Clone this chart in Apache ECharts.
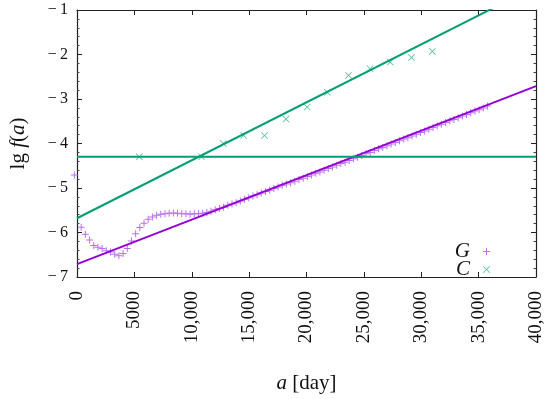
<!DOCTYPE html>
<html>
<head>
<meta charset="utf-8">
<script src="https://cdn.jsdelivr.net/npm/echarts@6/dist/echarts.min.js"></script>
<style>html,body{margin:0;padding:0;background:#fff}#c{width:550px;height:399px}</style>
</head>
<body>
<div id="c"></div>
<script>
const xTicks = [0, 5000, 10000, 15000, 20000, 25000, 30000, 35000, 40000];
const xTickLabels = ['0', '5000', '10,000', '15,000', '20,000', '25,000', '30,000', '35,000', '40,000'];
const yTicks = [-7, -6, -5, -4, -3, -2, -1];

const gDays = [-230,365,730,1095,1460,1825,2190,2555,2920,3285,3650,4015,4380,4745,5110,5475,5840,6205,6570,6935,
  7300,7665,8030,8395,8760,9125,9490,9855,10220,10585,10950,11315,11680,12045,12410,12775,13140,13505,13870,14235,
  14600,14965,15330,15695,16060,16425,16790,17155,17520,17885,18250,18615,18980,19345,19710,20075,20440,20805,21170,21535,
  21900,22265,22630,22995,23360,23725,24090,24455,24820,25185,25550,25915,26280,26645,27010,27375,27740,28105,28470,28835,
  29200,29565,29930,30295,30660,31025,31390,31755,32120,32485,32850,33215,33580,33945,34310,34675,35040,35405,35770];
const gValues = [-4.71,-5.88,-6.04,-6.17,-6.29,-6.33,-6.36,-6.41,-6.44,-6.49,-6.52,-6.47,-6.36,-6.19,-6.03,-5.89,-5.79,-5.70,-5.65,-5.61,
  -5.59,-5.58,-5.57,-5.56,-5.57,-5.58,-5.58,-5.59,-5.58,-5.58,-5.57,-5.55,-5.52,-5.49,-5.46,-5.43,-5.39,-5.36,-5.33,-5.29,
  -5.25,-5.22,-5.18,-5.15,-5.11,-5.08,-5.05,-5.01,-4.98,-4.94,-4.91,-4.88,-4.85,-4.81,-4.78,-4.74,-4.71,-4.67,-4.64,-4.60,
  -4.56,-4.53,-4.49,-4.45,-4.42,-4.38,-4.34,-4.31,-4.27,-4.23,-4.20,-4.16,-4.12,-4.09,-4.05,-4.01,-3.98,-3.94,-3.90,-3.87,
  -3.83,-3.79,-3.75,-3.72,-3.68,-3.64,-3.60,-3.57,-3.53,-3.49,-3.46,-3.42,-3.38,-3.35,-3.31,-3.27,-3.24,-3.20,-3.16];

const cDays = [5430, 10850, 12750, 14520, 16340, 18210, 20060, 21820, 23660, 25540, 27300, 29150, 30970];
const cValues = [-4.30, -4.30, -4.00, -3.82, -3.82, -3.45, -3.18, -2.85, -2.47, -2.32, -2.17, -2.07, -1.93];

const fitX = [0, 40000];
const gFit = [-6.71, -2.71];
const cFit = [-5.68, -0.47];
const cConst = [-4.30, -4.30];

const PURPLE = '#9400d3', GREEN = '#009e73';
const plusPath = 'path://M3,0H4V3H7V4H4V7H3V4H0V3H3Z';
const crossPath = 'path://M0,0.7L0.7,0L4,3.3L7.3,0L8,0.7L4.7,4L8,7.3L7.3,8L4,4.7L0.7,8L0,7.3L3.3,4Z';
const pair = (xs, ys) => xs.map((x, i) => [x, ys[i]]);
const SERIF = '"Liberation Serif","DejaVu Serif",serif';

const chart = echarts.init(document.getElementById('c'), null, {renderer: 'canvas'});
const axisCommon = {
  axisLine: {show: true, onZero: false, lineStyle: {color: '#222', width: 1.2}},
  axisTick: {show: true, inside: true, length: 5, lineStyle: {color: '#222', width: 1}},
  splitLine: {show: false}
};
chart.setOption({
  animation: false,
  backgroundColor: '#fff',
  grid: {left: 74, right: 14, top: 10, bottom: 116},
  legend: {
    data: ['G', 'C'], orient: 'vertical', right: 60, top: 241, align: 'right', padding: 0,
    itemWidth: 7, itemHeight: 7, itemGap: -3,
    textStyle: {fontFamily: SERIF, fontStyle: 'italic', fontSize: 21, lineHeight: 16, color: '#111', padding: [0, 8, 0, 0]}
  },
  xAxis: [{
    type: 'value', min: 0, max: 40000, interval: 5000, position: 'bottom',
    ...axisCommon,
    axisLabel: {rotate: 90, margin: 14, fontFamily: SERIF, fontSize: 19, color: '#111',
      formatter: v => xTickLabels[xTicks.indexOf(v)]},
    name: '{i|a} [day]', nameLocation: 'middle', nameGap: 96,
    nameTextStyle: {fontFamily: SERIF, fontSize: 21, color: '#111',
      rich: {i: {fontFamily: SERIF, fontStyle: 'italic', fontSize: 21, color: '#111'}}}
  }, {
    type: 'value', min: 0, max: 40000, interval: 5000, position: 'top',
    ...axisCommon, axisLabel: {show: false}
  }],
  yAxis: [{
    type: 'value', min: -7, max: -1, interval: 1, position: 'left',
    ...axisCommon,
    minorTick: {show: true, splitNumber: 5, length: 2.5, lineStyle: {color: '#444'}},
    axisLabel: {margin: 9, fontFamily: SERIF, fontSize: 16, color: '#111',
      formatter: v => (yTicks.includes(v) ? '\u2212\u2009' + Math.abs(v) : '')},
    name: 'lg {i|f}({i|a})', nameLocation: 'middle', nameGap: 48, nameRotate: 90,
    nameTextStyle: {fontFamily: SERIF, fontSize: 21, color: '#111',
      rich: {i: {fontFamily: SERIF, fontStyle: 'italic', fontSize: 21, color: '#111'}}}
  }, {
    type: 'value', min: -7, max: -1, interval: 1, position: 'right',
    ...axisCommon,
    minorTick: {show: true, splitNumber: 5, length: 2.5, lineStyle: {color: '#444'}},
    axisLabel: {show: false}
  }],
  series: [
    {name: 'gfit', type: 'line', data: pair(fitX, gFit), symbol: 'none', clip: true,
      lineStyle: {color: PURPLE, width: 2}, z: 3},
    {name: 'cfit', type: 'line', data: pair(fitX, cFit), symbol: 'none', clip: true,
      lineStyle: {color: GREEN, width: 2}, z: 3},
    {name: 'cconst', type: 'line', data: pair(fitX, cConst), symbol: 'none', clip: true,
      lineStyle: {color: GREEN, width: 2}, z: 3},
    {name: 'G', type: 'scatter', data: pair(gDays, gValues), symbol: plusPath, symbolSize: 7,
      clip: false, itemStyle: {color: '#b25ff0', opacity: 0.9}, z: 2},
    {name: 'C', type: 'scatter', data: pair(cDays, cValues), symbol: crossPath, symbolSize: 7,
      clip: false, itemStyle: {color: '#2fb08a'}, z: 2}
  ]
});
</script>
</body>
</html>
